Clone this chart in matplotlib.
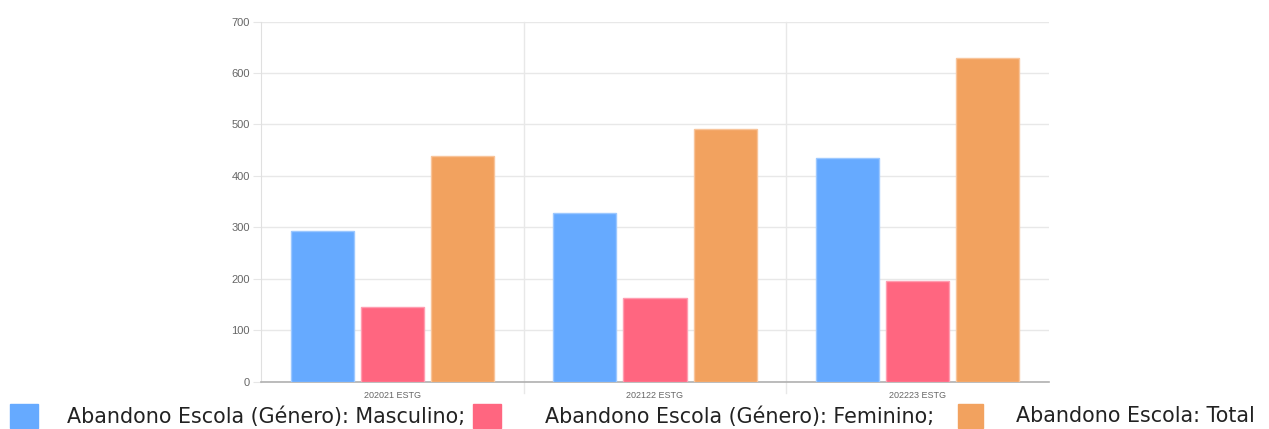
import numpy as np
import matplotlib
matplotlib.use('Agg')
import matplotlib.pyplot as plt
from matplotlib.patches import Rectangle

# Data
categories = ['202021 ESTG', '202122 ESTG', '202223 ESTG']
series_names = ['Abandono Escola (Género): Masculino;',
                'Abandono Escola (Género): Feminino;',
                'Abandono Escola: Total']
masculino = [293, 328, 434]
feminino = [145, 162, 195]
total = [438, 491, 629]

colors = ['#66aaff', '#ff6680', '#f2a25f']
edges = ['#9cc8ff', '#ff9db0', '#f8c49a']

W, H = 1269, 429
fig = plt.figure(figsize=(W / 100, H / 100), dpi=100)
ax = fig.add_axes([261 / W, 1 - 381.5 / H, (1049 - 261) / W, (381.5 - 21.5) / H])

x = np.arange(len(categories))
bw = 0.8 / 3 * 0.9
for i, vals in enumerate([masculino, feminino, total]):
    ax.bar(x + (i - 1) * 0.8 / 3, vals, width=bw, color=colors[i],
           edgecolor=edges[i], linewidth=1, zorder=3)

ax.set_xlim(-0.5, len(categories) - 0.5)
ax.set_ylim(0, 700)
ax.set_yticks(range(0, 701, 100))
ax.set_xticks(x)
ax.set_xticklabels(categories, fontsize=6.5, color='#666666', family='Liberation Sans')
for lab in ax.get_yticklabels():
    lab.set_family('Liberation Sans')
ax.tick_params(axis='x', length=0, pad=7)
ax.tick_params(axis='y', length=6, color='#e6e6e6', labelsize=8,
               labelcolor='#666666', pad=2)

# horizontal grid
ax.grid(axis='y', color='#e8e8e8', linewidth=1, zorder=0)
# vertical grid on category boundaries, running a bit below the axis
for b in np.arange(0.5, len(categories) - 0.5, 1):
    ax.plot([b, b], [-22, 700], color='#e8e8e8', lw=1, clip_on=False, zorder=0)

for s in ['top', 'right']:
    ax.spines[s].set_visible(False)
ax.spines['left'].set_color('#e0e0e0')
ax.spines['bottom'].set_color('#b0b0b0')
ax.spines['bottom'].set_linewidth(1.2)

# legend along the bottom
box_x = [10, 473, 958]
box_w = [28, 28, 25]
text_x = [67, 545, 1016]
for i, name in enumerate(series_names):
    fig.patches.append(Rectangle((box_x[i] / W, 1 - 428 / H), box_w[i] / W, 24 / H,
                                 transform=fig.transFigure, color=colors[i]))
    fig.text(text_x[i] / W, 1 - 416.5 / H, name, fontsize=14.9, color='#222222',
             ha='left', va='center', family='DejaVu Sans')

fig.savefig('out.png', dpi=100, facecolor='white')
